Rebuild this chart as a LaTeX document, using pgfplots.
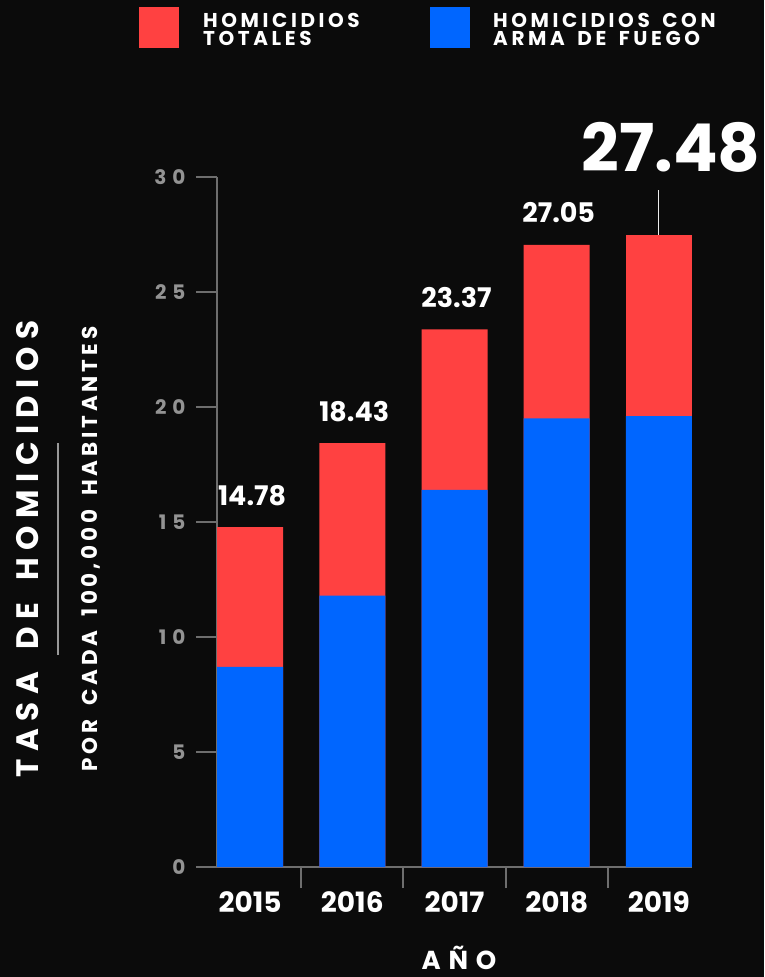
\documentclass[border=0pt]{standalone}
\usepackage{fontspec}
\setmainfont{Poppins}
\newfontfamily\trackL[LetterSpace=18,WordSpace=1.6]{Poppins}
\newfontfamily\trackM[LetterSpace=24,WordSpace=1.6]{Poppins}
\newfontfamily\trackT[LetterSpace=30,WordSpace=1.6]{Poppins}
\usepackage{pgfplots}
\pgfplotsset{compat=1.18}
\usetikzlibrary{backgrounds}

\definecolor{fondo}{HTML}{0B0B0B}
\definecolor{rojo}{HTML}{FF4141}
\definecolor{azul}{HTML}{0066FF}
\definecolor{eje}{HTML}{6E6E6E}
\definecolor{gristxt}{HTML}{939393}

\begin{document}
\begin{tikzpicture}
\begin{axis}[
    name=ax,
    scale only axis, width=475pt, height=690pt,
    xmin=-0.3235, xmax=4.3235, ymin=0, ymax=30,
    enlargelimits=false, clip=false,
    ybar, bar width=66pt,
    axis x line*=bottom, axis y line*=left,
    axis line style={eje, line width=2pt, -},
    tick align=outside, major tick length=21pt,
    tick style={eje, line width=2pt},
    ytick={0,5,...,30},
    yticklabel style={font=\trackT\bfseries\fontsize{20}{20}\selectfont, text=gristxt, xshift=-7pt},
    xtick={0.5,1.5,2.5,3.5}, xticklabels={},
    extra x ticks={0,1,2,3,4},
    extra x tick labels={2015,2016,2017,2018,2019},
    extra x tick style={tick style={draw=none},
        tick label style={font=\bfseries\fontsize{28}{28}\selectfont, text=white}},
    /pgf/number format/assume math mode=true,
]
% homicidios totales
\addplot[bar shift=0pt, fill=rojo, draw=none,
    nodes near coords={\pgfmathprintnumber[fixed,fixed zerofill,precision=2]{\pgfplotspointmeta}},
    every node near coord/.append style={font=\bfseries\fontsize{27}{27}\selectfont, text=white, anchor=base, yshift=22pt, xshift=2pt}]
    coordinates {(0,14.78) (1,18.43) (2,23.37) (3,27.05)};
\addplot[forget plot, bar shift=0pt, fill=rojo, draw=none,
    nodes near coords={\pgfmathprintnumber[fixed,fixed zerofill,precision=2]{\pgfplotspointmeta}},
    every node near coord/.append style={font=\bfseries\fontsize{66}{66}\selectfont, text=white, anchor=base, yshift=63pt, xshift=12pt}]
    coordinates {(4,27.48)};
% homicidios con arma de fuego
\addplot[bar shift=0pt, fill=azul, draw=none]
    coordinates {(0,8.7) (1,11.8) (2,16.4) (3,19.5) (4,19.6)};
\draw[white!85!gray, line width=1pt] (axis cs:4,27.48) -- ++(0pt,45pt);
\coordinate (O) at (rel axis cs:0,0);
\end{axis}

\begin{scope}[shift={(O)}, xshift=-217pt, yshift=-110pt, x=1pt, y=1pt]
\begin{pgfonlayer}{background}
\fill[fondo] (0,0) rectangle (764,977);
\end{pgfonlayer}

% leyenda
\fill[rojo] (139,929) rectangle (179,970);
\fill[azul] (430,929) rectangle (470,970);
\node[anchor=north west, inner sep=0, align=left, text=white, font=\trackL\bfseries\fontsize{20}{18.5}\selectfont] at (203,964) {HOMICIDIOS\\TOTALES};
\node[anchor=north west, inner sep=0, align=left, text=white, font=\trackL\bfseries\fontsize{20}{18.5}\selectfont] at (493,964) {HOMICIDIOS CON\\ARMA DE FUEGO};

% titulos de ejes
\node[rotate=90, anchor=base, inner sep=0, text=white, font=\trackM\bfseries\fontsize{31}{31}\selectfont] at (39,428) {TASA DE HOMICIDIOS};
\draw[gray!80, line width=1.5pt] (58,322) -- (58,534);
\node[rotate=90, anchor=base, inner sep=0, text=white, font=\trackL\bfseries\fontsize{21.5}{21.5}\selectfont] at (98,428) {POR CADA 100,000 HABITANTES};
\node[anchor=base, inner sep=0, text=white, font=\trackT\bfseries\fontsize{26}{26}\selectfont] at (459,8) {AÑO};

\pgfresetboundingbox
\useasboundingbox (0,0) rectangle (764,977);
\end{scope}
\end{tikzpicture}
\end{document}
